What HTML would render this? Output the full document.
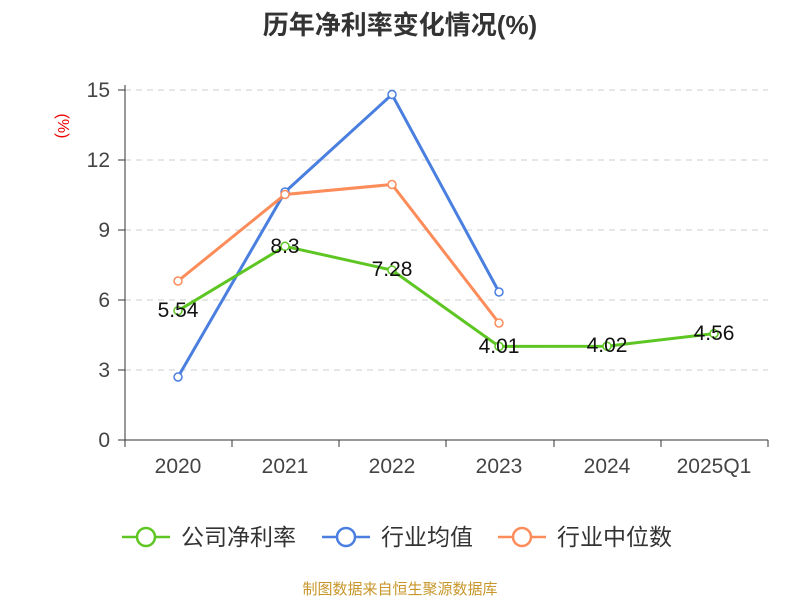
<!DOCTYPE html>
<html><head><meta charset="utf-8"><style>
body{margin:0;background:#fff;}
text{font-family:"Liberation Sans","Noto Sans CJK SC",sans-serif;}
</style></head><body>
<svg width="800" height="600" xmlns="http://www.w3.org/2000/svg">
<text x="400" y="34" text-anchor="middle" font-size="26" font-weight="bold" fill="#333">历年净利率变化情况(%)</text>
<text x="58" y="126" font-size="16" fill="#e00" text-anchor="middle" transform="rotate(90 58 126)">(%)</text>
<g stroke="#ccc" stroke-dasharray="6,5" stroke-width="1">
<line x1="125" y1="90" x2="768" y2="90"/><line x1="125" y1="160" x2="768" y2="160"/>
<line x1="125" y1="230" x2="768" y2="230"/><line x1="125" y1="300" x2="768" y2="300"/>
<line x1="125" y1="370" x2="768" y2="370"/></g>
<g stroke="#333" stroke-width="1">
<line x1="125" y1="85" x2="125" y2="440"/><line x1="125" y1="440" x2="768" y2="440"/>
<line x1="118" y1="90" x2="125" y2="90"/><line x1="118" y1="160" x2="125" y2="160"/><line x1="118" y1="230" x2="125" y2="230"/><line x1="118" y1="300" x2="125" y2="300"/><line x1="118" y1="370" x2="125" y2="370"/><line x1="118" y1="440" x2="125" y2="440"/>
<line x1="125" y1="440" x2="125" y2="447"/><line x1="232" y1="440" x2="232" y2="447"/><line x1="339" y1="440" x2="339" y2="447"/><line x1="446" y1="440" x2="446" y2="447"/><line x1="554" y1="440" x2="554" y2="447"/><line x1="661" y1="440" x2="661" y2="447"/><line x1="768" y1="440" x2="768" y2="447"/>
</g>
<g font-size="21" fill="#444" text-anchor="end">
<text x="110" y="97">15</text><text x="110" y="167">12</text><text x="110" y="237">9</text><text x="110" y="307">6</text><text x="110" y="377">3</text><text x="110" y="447">0</text></g>
<g font-size="21" fill="#444" text-anchor="middle">
<text x="178" y="473">2020</text><text x="285" y="473">2021</text><text x="392" y="473">2022</text><text x="499" y="473">2023</text><text x="607" y="473">2024</text><text x="714" y="473">2025Q1</text></g>
<polyline fill="none" stroke="#4a7fe0" stroke-width="3" points="178,377 285,192 392,94.5 499,292"/>
<polyline fill="none" stroke="#fc8c59" stroke-width="3" points="178,281 285,194.5 392,184.5 499,323"/>
<polyline fill="none" stroke="#5ec623" stroke-width="3" points="178,310.7 285,246.3 392,270.1 499,346.4 607,346.2 714,333.6"/>
<g fill="#fff" stroke-width="1.5">
<g stroke="#4a7fe0"><circle cx="178" cy="377" r="4"/><circle cx="285" cy="192" r="4"/><circle cx="392" cy="94.5" r="4"/><circle cx="499" cy="292" r="4"/></g>
<g stroke="#fc8c59"><circle cx="178" cy="281" r="4"/><circle cx="285" cy="194.5" r="4"/><circle cx="392" cy="184.5" r="4"/><circle cx="499" cy="323" r="4"/></g>
<g stroke="#5ec623"><circle cx="178" cy="310.7" r="4"/><circle cx="285" cy="246.3" r="4"/><circle cx="392" cy="270.1" r="4"/><circle cx="499" cy="346.4" r="4"/><circle cx="607" cy="346.2" r="4"/><circle cx="714" cy="333.6" r="4"/></g>
</g>
<g font-size="21" fill="#111" text-anchor="middle">
<text x="178" y="317">5.54</text><text x="285" y="253">8.3</text><text x="392" y="276">7.28</text><text x="499" y="353">4.01</text><text x="607" y="352">4.02</text><text x="714" y="340">4.56</text></g>
<g stroke-width="2.5" fill="#fff">
<line x1="122" y1="537" x2="170" y2="537" stroke="#5ec623"/><circle cx="146" cy="537" r="9" stroke="#5ec623"/>
<line x1="322" y1="537" x2="370" y2="537" stroke="#4a7fe0"/><circle cx="346" cy="537" r="9" stroke="#4a7fe0"/>
<line x1="498" y1="537" x2="546" y2="537" stroke="#fc8c59"/><circle cx="522" cy="537" r="9" stroke="#fc8c59"/>
</g>
<g font-size="23" fill="#333">
<text x="181" y="545">公司净利率</text><text x="381" y="545">行业均值</text><text x="557" y="545">行业中位数</text></g>
<text x="400" y="594" text-anchor="middle" font-size="15" fill="#c8962a">制图数据来自恒生聚源数据库</text>
</svg>
</body></html>
